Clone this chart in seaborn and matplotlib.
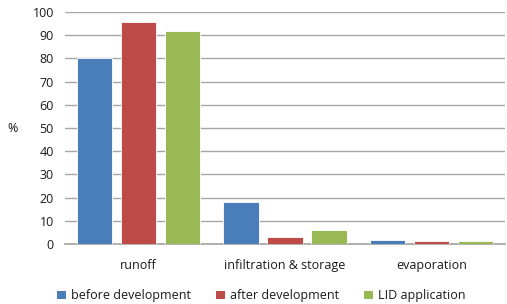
import matplotlib
matplotlib.use("Agg")
import matplotlib.pyplot as plt
import seaborn as sns
import pandas as pd
from matplotlib.patches import Patch

categories = ["runoff", "infiltration & storage", "evaporation"]
series = ["before development", "after development", "LID application"]
before = [80, 18, 1.6]
after = [95.5, 3, 1.5]
lid = [92, 6, 1.5]
yticks = [0, 10, 20, 30, 40, 50, 60, 70, 80, 90, 100]
colors = ["#4A7EBB", "#BE4B48", "#98B954"]

rows = []
for s, vals in zip(series, [before, after, lid]):
    for c, v in zip(categories, vals):
        rows.append({"category": c, "series": s, "value": v})
df = pd.DataFrame(rows)

sns.set_theme(style="white")
plt.rcParams["font.family"] = ["Open Sans", "DejaVu Sans"]

fig = plt.figure(figsize=(5.07, 3.04), dpi=100)
ax = fig.add_axes([0.128, 0.197, 0.868, 0.7635])
sns.barplot(data=df, x="category", y="value", hue="series", order=categories,
            hue_order=series, palette=colors, width=0.9, gap=0.2,
            edgecolor="white", linewidth=0.6, saturation=1, ax=ax, legend=False, zorder=3)

ax.set_xlim(-0.5, 2.5)
ax.set_ylim(0, 100)
ax.set_yticks(yticks)
ax.yaxis.grid(True, color="#a6a6a6", linewidth=1.0, zorder=0)
ax.set_axisbelow(True)
for side in ["top", "right", "left"]:
    ax.spines[side].set_visible(False)
ax.spines["bottom"].set_color("#a6a6a6")
ax.tick_params(axis="both", length=0, labelsize=9, colors="#1a1a1a", pad=8)
ax.tick_params(axis="x", pad=11)
ax.set_xlabel("")
ax.set_ylabel("%", rotation=0, fontsize=9, color="#1a1a1a", labelpad=14, va="center")

handles = [Patch(facecolor=c, edgecolor="none") for c in colors]
fig.legend(handles, series, loc="center", bbox_to_anchor=(0.515, 0.027), ncol=3,
           frameon=False, fontsize=9, handlelength=0.7, handleheight=0.7,
           handletextpad=0.4, columnspacing=2.0, labelcolor="#1a1a1a")

fig.savefig("out.png", dpi=100)
